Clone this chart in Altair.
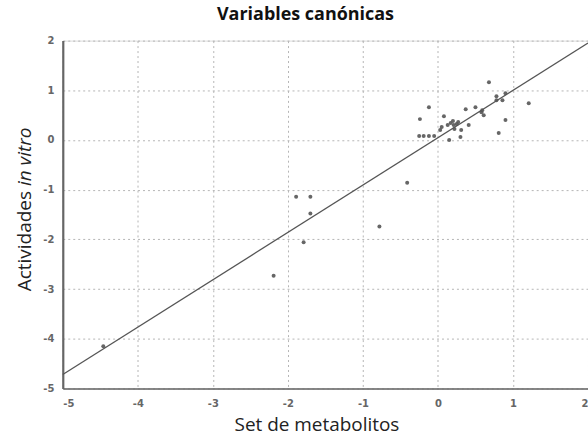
import altair as alt
import pandas as pd

# Canonical scores: metabolite set (x) vs in vitro activities (y)
score_x = [-4.46, -2.19, -1.89, -1.70, -1.70, -1.79, -0.78, -0.41, -0.24, -0.12,
           -0.25, -0.19, -0.12, -0.05, 0.03, 0.05, 0.08, 0.13, 0.15, 0.17,
           0.21, 0.25, 0.30, 0.31, 0.37, 0.41, 0.50, 0.58, 0.61, 0.59,
           0.68, 0.78, 0.78, 0.86, 0.90, 0.90, 0.81, 1.21, 0.20, 0.27, 0.22]
score_y = [-4.15, -2.73, -1.14, -1.14, -1.48, -2.06, -1.74, -0.86, 0.42, 0.66,
           0.08, 0.08, 0.08, 0.08, 0.20, 0.26, 0.48, 0.30, 0.00, 0.34,
           0.30, 0.32, 0.06, 0.20, 0.62, 0.30, 0.66, 0.56, 0.50, 0.60,
           1.16, 0.88, 0.80, 0.80, 0.94, 0.40, 0.14, 0.74, 0.38, 0.36, 0.22]

# Fitted line end points
fit_x = [-5, 2]
fit_y = [-4.72, 1.95]

ticks = [-5, -4, -3, -2, -1, 0, 1, 2]

pts = pd.DataFrame({"x": score_x, "y": score_y})
fit = pd.DataFrame({"x": fit_x, "y": fit_y})

font = "Open Sans"

xscale = alt.Scale(domain=[-5, 2], nice=False, zero=False)
yscale = alt.Scale(domain=[-5, 2], nice=False, zero=False)

axis_common = dict(
    values=ticks, labelExpr="datum.value + ''", grid=True, gridColor="#b5b5b5",
    gridDash=[2, 3], gridWidth=1, ticks=False, labelFont="DejaVu Sans",
    labelFontSize=10, labelFontWeight="bold", labelColor="#666",
    domainColor="#666", title=None,
)

xaxis = alt.Axis(domainWidth=1.5, labelPadding=10, **axis_common)
yaxis = alt.Axis(domainWidth=2.2, labelPadding=9, **axis_common)

points = alt.Chart(pts).mark_circle(size=16, color="#555", opacity=0.9).encode(
    x=alt.X("x:Q", scale=xscale, axis=xaxis),
    y=alt.Y("y:Q", scale=yscale, axis=yaxis),
)

line = alt.Chart(fit).mark_line(color="#555", strokeWidth=1.3).encode(
    x=alt.X("x:Q", scale=xscale),
    y=alt.Y("y:Q", scale=yscale),
)

label_df = pd.DataFrame({"a": [0]})
ytitle_a = alt.Chart(label_df).mark_text(
    text="Actividades", angle=270, align="right", baseline="middle",
    font=font, fontSize=19, color="#222",
).encode(x=alt.value(-38), y=alt.value(151))
ytitle_b = alt.Chart(label_df).mark_text(
    text="in vitro", angle=270, align="left", baseline="middle",
    font=font, fontSize=19, fontStyle="italic", color="#222",
).encode(x=alt.value(-38), y=alt.value(146))
xtitle = alt.Chart(label_df).mark_text(
    text="Set de metabolitos", align="center", baseline="middle",
    font=font, fontSize=19, color="#222",
).encode(x=alt.value(255), y=alt.value(386))

chart = alt.layer(points, line, ytitle_a, ytitle_b, xtitle).properties(
    width=527, height=349,
    title=alt.TitleParams("Variables canónicas", font=font, fontSize=18,
                          fontWeight="bold", color="#111", offset=12, dx=-20),
    padding={"left": 63, "top": 40, "right": 0, "bottom": 52},
    autosize=alt.AutoSizeParams(type="none"),
).configure_view(stroke="#888", strokeWidth=1.5).configure(background="white")

chart.save("out.html", embed_options={"renderer": "svg", "actions": False})
